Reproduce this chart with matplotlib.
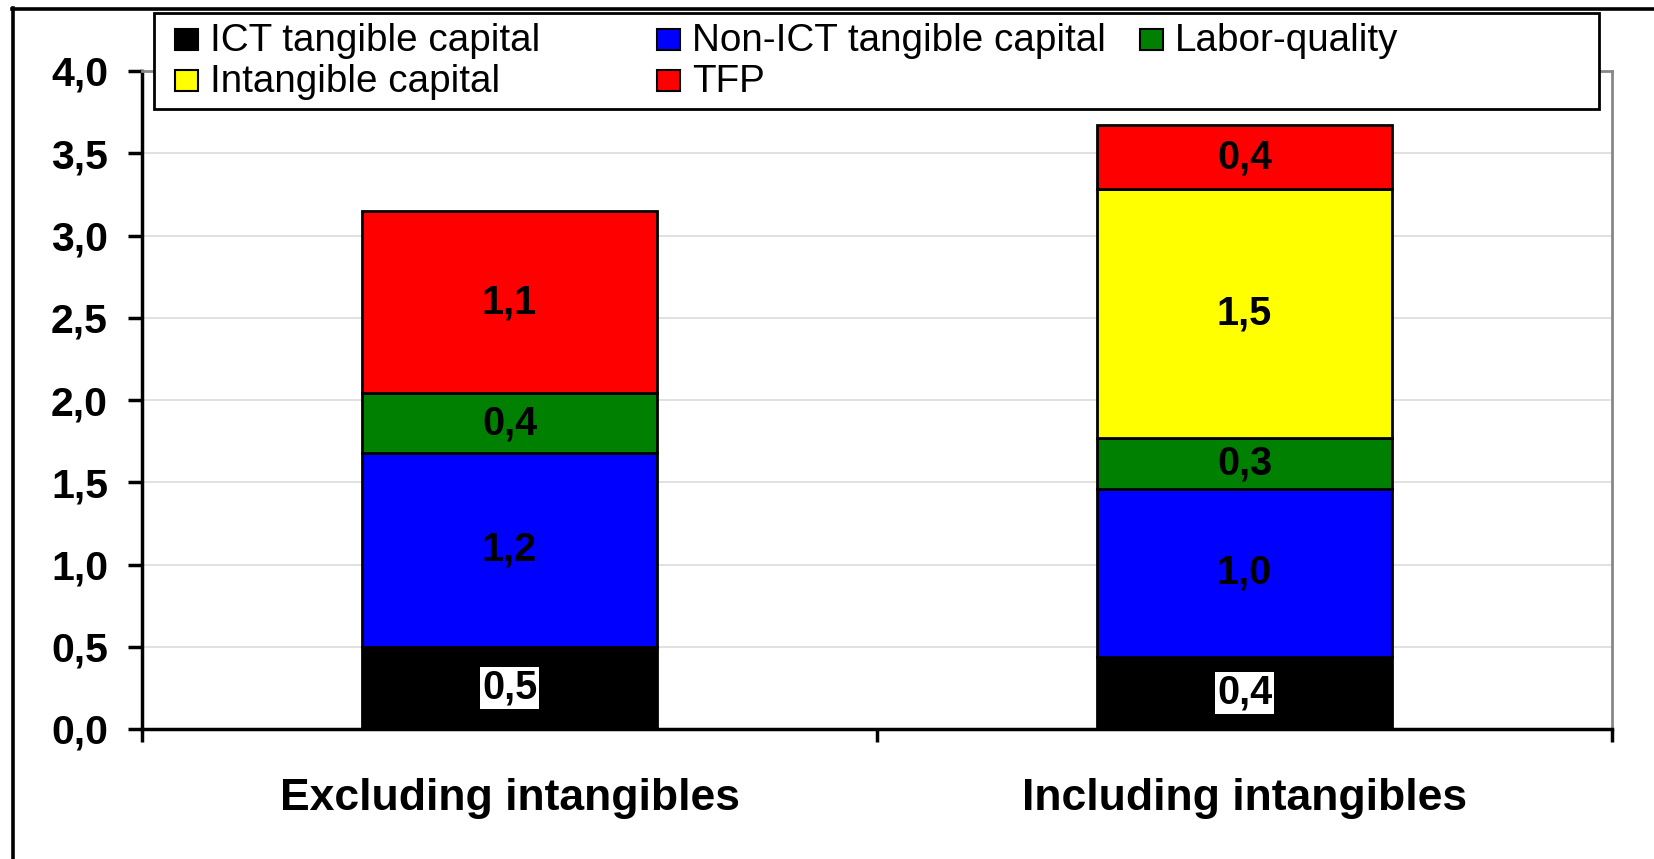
import matplotlib
matplotlib.use("Agg")
import matplotlib.pyplot as plt
from matplotlib.patches import Rectangle
from matplotlib.lines import Line2D
import matplotlib.transforms as mtransforms

plt.rcParams['font.family'] = ['Liberation Sans', 'DejaVu Sans']

# ---------------- data ----------------
categories = ["Excluding intangibles", "Including intangibles"]
series_names = ["ICT tangible capital", "Non-ICT tangible capital", "Labor-quality",
                "Intangible capital", "TFP"]
ict_tangible = [0.50, 0.44]
non_ict_tangible = [1.18, 1.02]
labor_quality = [0.36, 0.31]
intangible_capital = [0.0, 1.51]
tfp = [1.11, 0.39]
y_ticks = [0.0, 0.5, 1.0, 1.5, 2.0, 2.5, 3.0, 3.5, 4.0]
series_colors = ["#000000", "#0000FF", "#008000", "#FFFF00", "#FF0000"]

series_values = [ict_tangible, non_ict_tangible, labor_quality, intangible_capital, tfp]

# ---------------- figure ----------------
W, H = 1654, 859
fig = plt.figure(figsize=(W / 100, H / 100), dpi=100)
fig.patch.set_facecolor("white")

def fx(px):
    return px / W

def fy(py):
    return 1 - py / H

ax_left, ax_right, ax_top, ax_bottom = 142, 1612, 71, 729
ax = fig.add_axes([fx(ax_left), fy(ax_bottom), (ax_right - ax_left) / W, (ax_bottom - ax_top) / H])

x = list(range(len(categories)))
bar_width = 0.402
bottoms = [0.0] * len(categories)
for vals, col in zip(series_values, series_colors):
    for i, v in enumerate(vals):
        if v <= 0:
            continue
        ax.bar(x[i], v, width=bar_width, bottom=bottoms[i], color=col,
               edgecolor="black", linewidth=2, zorder=3)
        label = f"{v:.1f}".replace(".", ",")
        yc = bottoms[i] + v / 2
        if col == "#000000":
            ax.text(x[i], yc, label, ha="center", va="center", fontsize=28.5,
                    fontweight="bold", color="black", zorder=5,
                    bbox=dict(boxstyle="square,pad=0.05", facecolor="white", edgecolor="none"))
        else:
            ax.text(x[i], yc, label, ha="center", va="center", fontsize=28.5,
                    fontweight="bold", color="black", zorder=5)
        bottoms[i] += v

ax.set_xlim(-0.5, len(categories) - 0.5)
ax.set_ylim(0, 4.0)
ax.set_yticks(y_ticks)
ax.set_yticklabels([f"{t:.1f}".replace(".", ",") for t in y_ticks],
                   fontsize=29.5, fontweight="bold")
ax.tick_params(axis="y", direction="out", length=10, width=2.5, pad=14.5, color="black")

ax.set_xticks(x)
ax.set_xticklabels([])
ax.tick_params(axis="x", which="major", length=0)
ax.set_xticks([i - 0.5 for i in range(len(categories) + 1)], minor=True)
ax.tick_params(axis="x", which="minor", direction="out", length=9, width=2.5, color="black")

trans = mtransforms.blended_transform_factory(ax.transData, ax.transAxes)
base_y = -(810 - ax_bottom) / (ax_bottom - ax_top)
for i, c in enumerate(categories):
    ax.text(x[i], base_y, c, transform=trans, ha="center", va="baseline",
            fontsize=32, fontweight="bold", color="black")

ax.yaxis.grid(True, color="#dcdcdc", linewidth=1.2)
ax.set_axisbelow(True)

ax.spines["left"].set_linewidth(2.5)
ax.spines["bottom"].set_linewidth(2.5)
ax.spines["left"].set_color("black")
ax.spines["bottom"].set_color("black")
ax.spines["right"].set_color("#888888")
ax.spines["top"].set_color("#888888")
ax.spines["right"].set_linewidth(2)
ax.spines["top"].set_linewidth(2)

# ---------------- legend (Excel-style box) ----------------
leg_x0, leg_x1, leg_y0, leg_y1 = 154, 1599, 13, 109
fig.add_artist(Rectangle((fx(leg_x0), fy(leg_y1)), (leg_x1 - leg_x0) / W, (leg_y1 - leg_y0) / H,
                         transform=fig.transFigure, facecolor="white", edgecolor="black",
                         linewidth=2, zorder=10))
col_x = [175, 657, 1140]
row_base = [51, 92]
marker_w, marker_h = 23, 21
for k, (name, col) in enumerate(zip(series_names, series_colors)):
    r, c = divmod(k, 3)
    mx = col_x[c]
    my_top = row_base[r] - 22
    fig.add_artist(Rectangle((fx(mx), fy(my_top + marker_h)), marker_w / W, marker_h / H,
                             transform=fig.transFigure, facecolor=col, edgecolor="black",
                             linewidth=1.5, zorder=11))
    fig.text(fx(mx + 35), fy(row_base[r]), name, ha="left", va="baseline",
             fontsize=27.8, color="black", zorder=12)

# ---------------- outer frame (top and left) ----------------
fig.add_artist(Line2D([fx(12), 1], [fy(8.5), fy(8.5)], transform=fig.transFigure,
                      color="black", linewidth=2.6, zorder=20))
fig.add_artist(Line2D([fx(12.5), fx(12.5)], [fy(8), 0], transform=fig.transFigure,
                      color="black", linewidth=2.6, zorder=20))

fig.savefig("out.png", dpi=100, facecolor="white")
